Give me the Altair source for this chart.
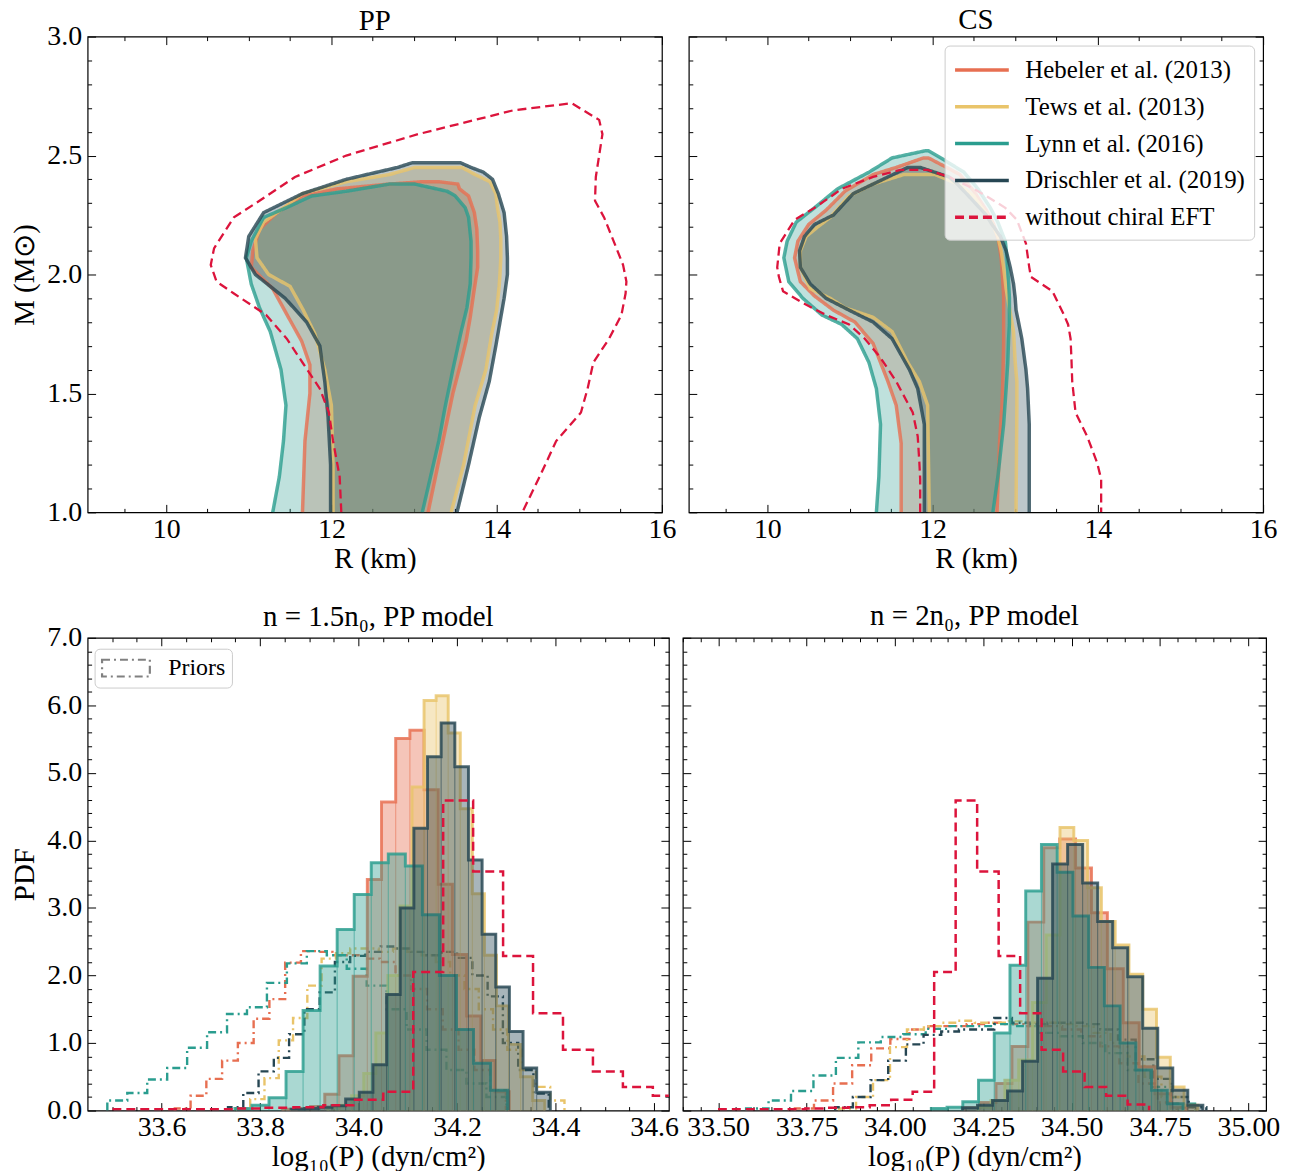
import altair as alt
import pandas as pd

FONT = "Liberation Serif"
MODELS = ["Hebeler et al. (2013)", "Tews et al. (2013)", "Lynn et al. (2016)", "Drischler et al. (2019)"]
NO_EFT = "without chiral EFT"
MODEL_COLORS = ["#e76f51", "#e9c46a", "#2a9d8f", "#264653"]
RED = "#dc143c"
PRIOR_LABEL = "Priors"

# ---------------- M-R 90% regions: mass rows, left radius, right radius ----------------
PP_HEB_M = [1.00, 1.30, 1.50, 1.62, 1.72, 1.82, 1.94, 2.03, 2.10, 2.19, 2.26, 2.33, 2.36, 2.38, 2.39]
PP_HEB_L = [11.65, 11.68, 11.74, 11.74, 11.64, 11.48, 11.29, 11.03, 11.05, 11.13, 11.34, 11.65, 12.07, 12.70, 13.10]
PP_HEB_R = [13.17, 13.35, 13.47, 13.56, 13.63, 13.68, 13.73, 13.77, 13.77, 13.76, 13.73, 13.66, 13.55, 13.53, 13.30]

PP_TEWS_M = [1.00, 1.20, 1.45, 1.60, 1.75, 1.85, 1.95, 2.00, 2.07, 2.15, 2.22, 2.28, 2.34, 2.39, 2.42, 2.45]
PP_TEWS_L = [12.02, 12.02, 12.00, 11.92, 11.80, 11.66, 11.50, 11.24, 11.10, 11.08, 11.18, 11.42, 11.65, 12.18, 12.70, 13.01]
PP_TEWS_R = [13.45, 13.60, 13.74, 13.87, 13.94, 14.00, 14.03, 14.04, 14.05, 14.05, 14.04, 14.01, 13.99, 13.92, 13.74, 13.58]

PP_LYNN_M = [1.00, 1.15, 1.30, 1.45, 1.60, 1.76, 1.86, 1.96, 2.07, 2.14, 2.24, 2.28, 2.33, 2.35, 2.38]
PP_LYNN_L = [11.29, 11.37, 11.42, 11.45, 11.39, 11.26, 11.13, 11.03, 10.97, 11.03, 11.18, 11.45, 11.76, 12.18, 12.70]
PP_LYNN_R = [13.10, 13.20, 13.30, 13.38, 13.47, 13.57, 13.64, 13.68, 13.69, 13.69, 13.66, 13.62, 13.50, 13.40, 13.01]

PP_DRI_M = [1.00, 1.20, 1.40, 1.55, 1.70, 1.80, 1.90, 2.00, 2.07, 2.16, 2.26, 2.34, 2.40, 2.43, 2.45, 2.47]
PP_DRI_L = [11.99, 11.99, 11.96, 11.92, 11.86, 11.70, 11.44, 11.08, 10.96, 11.00, 11.18, 11.65, 12.18, 12.55, 12.80, 12.98]
PP_DRI_R = [13.52, 13.66, 13.79, 13.91, 13.99, 14.04, 14.09, 14.13, 14.13, 14.12, 14.09, 14.02, 13.95, 13.84, 13.69, 13.56]

PP_RED_M = [1.00, 1.15, 1.30, 1.42, 1.52, 1.63, 1.73, 1.83, 1.92, 1.97, 2.04, 2.11, 2.24, 2.31, 2.41, 2.50, 2.59, 2.65, 2.69, 2.72]
PP_RED_L = [12.12, 12.10, 12.02, 11.97, 11.86, 11.65, 11.46, 11.21, 10.82, 10.61, 10.54, 10.58, 10.82, 11.13, 11.56, 12.18, 13.05, 13.74, 14.20, 14.91]
PP_RED_R = [14.31, 14.52, 14.72, 15.02, 15.10, 15.17, 15.36, 15.51, 15.56, 15.57, 15.53, 15.45, 15.30, 15.19, 15.20, 15.24, 15.28, 15.24, 15.05, 14.91]

CS_HEB_M = [1.00, 1.29, 1.45, 1.55, 1.71, 1.80, 1.85, 1.91, 1.97, 2.07, 2.14, 2.21, 2.27, 2.35, 2.42, 2.45, 2.49]
CS_HEB_L = [11.62, 11.62, 11.56, 11.46, 11.28, 11.06, 10.80, 10.57, 10.40, 10.33, 10.37, 10.50, 10.71, 10.94, 11.28, 11.56, 11.89]
CS_HEB_R = [12.78, 12.81, 12.84, 12.85, 12.86, 12.86, 12.86, 12.86, 12.85, 12.83, 12.80, 12.74, 12.65, 12.50, 12.33, 12.17, 11.95]

CS_TEWS_M = [1.00, 1.45, 1.55, 1.63, 1.76, 1.82, 1.86, 1.90, 1.94, 2.03, 2.10, 2.16, 2.20, 2.24, 2.33, 2.38, 2.42]
CS_TEWS_L = [11.96, 11.94, 11.84, 11.70, 11.51, 11.28, 10.94, 10.76, 10.52, 10.40, 10.40, 10.47, 10.61, 10.76, 10.99, 11.28, 11.65]
CS_TEWS_R = [13.01, 13.02, 13.02, 13.00, 12.98, 12.95, 12.93, 12.91, 12.89, 12.86, 12.83, 12.79, 12.74, 12.68, 12.50, 12.31, 12.03]

CS_LYNN_M = [1.00, 1.15, 1.37, 1.52, 1.63, 1.73, 1.79, 1.83, 1.90, 1.97, 2.07, 2.14, 2.22, 2.28, 2.36, 2.43, 2.49, 2.52]
CS_LYNN_L = [11.32, 11.35, 11.37, 11.32, 11.23, 11.09, 10.90, 10.66, 10.43, 10.26, 10.20, 10.24, 10.35, 10.57, 10.85, 11.23, 11.51, 11.91]
CS_LYNN_R = [12.73, 12.79, 12.86, 12.89, 12.91, 12.92, 12.93, 12.93, 12.93, 12.92, 12.90, 12.88, 12.79, 12.70, 12.55, 12.38, 12.10, 11.95]

CS_DRI_M = [1.00, 1.37, 1.52, 1.60, 1.73, 1.80, 1.85, 1.90, 1.96, 2.03, 2.10, 2.16, 2.21, 2.25, 2.34, 2.38, 2.41, 2.45]
CS_DRI_L = [11.90, 11.90, 11.82, 11.72, 11.51, 11.28, 10.99, 10.71, 10.52, 10.40, 10.39, 10.45, 10.57, 10.80, 11.04, 11.28, 11.46, 11.70]
CS_DRI_R = [13.17, 13.17, 13.15, 13.13, 13.08, 13.04, 13.01, 13.00, 12.98, 12.94, 12.89, 12.82, 12.72, 12.65, 12.41, 12.30, 12.20, 11.85]

CS_RED_M = [1.00, 1.14, 1.21, 1.32, 1.42, 1.55, 1.65, 1.73, 1.79, 1.83, 1.88, 1.93, 1.99, 2.03, 2.13, 2.23, 2.28, 2.33, 2.36, 2.41, 2.44]
CS_RED_L = [11.85, 11.85, 11.84, 11.82, 11.76, 11.56, 11.37, 11.18, 10.99, 10.71, 10.43, 10.19, 10.14, 10.12, 10.15, 10.33, 10.57, 10.78, 10.90, 11.28, 11.61]
CS_RED_R = [14.04, 14.04, 13.99, 13.87, 13.73, 13.69, 13.68, 13.67, 13.64, 13.59, 13.52, 13.45, 13.19, 13.17, 13.13, 13.02, 12.88, 12.65, 12.50, 12.20, 11.94]

# ---------------- histograms: (first bin edge, bin width, PDF heights) ----------------
P15_HEB = (33.845, 0.0288, [0.02, 0.03, 0.06, 0.24, 0.81, 1.99, 3.42, 4.57, 5.51, 5.63, 4.75, 3.35, 2.31, 1.40, 0.74, 0.28])
P15_TEWS = (33.937, 0.0245, [0.04, 0.08, 0.22, 0.55, 1.15, 2.0, 3.03, 4.79, 6.07, 6.14, 5.59, 4.47, 3.21, 2.30, 1.55, 0.98, 0.5, 0.15])
P15_LYNN = (33.749, 0.0346, [0.03, 0.08, 0.19, 0.58, 1.48, 2.14, 2.68, 3.20, 3.67, 3.80, 3.62, 2.9, 2.0, 1.2, 0.7, 0.3])
P15_DRI = (33.863, 0.0277, [0.02, 0.03, 0.05, 0.07, 0.17, 0.27, 0.68, 1.72, 3.0, 4.18, 5.24, 5.74, 5.09, 3.71, 2.61, 1.83, 1.17, 0.63, 0.27])
R15_HEB = (33.627, 0.032, [0.03, 0.22, 0.47, 0.74, 1.0, 1.36, 1.65, 2.19, 2.36, 2.35, 2.3, 2.3, 2.25, 2.2, 2.0, 1.8, 1.5, 1.2, 0.9, 0.6, 0.3])
R15_TEWS = (33.751, 0.029, [0.03, 0.17, 0.48, 1.04, 1.37, 1.85, 2.25, 2.33, 2.4, 2.4, 2.35, 2.4, 2.35, 2.3, 2.2, 2.0, 1.8, 1.5, 1.2, 0.9, 0.6, 0.35, 0.15])
R15_LYNN = (33.49, 0.0405, [0.15, 0.26, 0.46, 0.63, 0.93, 1.16, 1.43, 1.53, 1.89, 2.18, 2.36, 2.30, 2.10, 1.85, 1.5, 1.2, 0.9, 0.6, 0.4, 0.2])
R15_DRI = (33.735, 0.031, [0.05, 0.26, 0.58, 0.78, 1.13, 1.5, 1.75, 2.2, 2.29, 2.35, 2.43, 2.4, 2.35, 2.3, 2.35, 2.26, 2.0, 1.69, 1.0, 0.6, 0.25])
P20_HEB = (34.196, 0.045, [0.04, 0.12, 0.40, 0.95, 2.79, 3.89, 4.02, 3.59, 2.93, 2.1, 1.3, 0.65, 0.25, 0.05])
P20_TEWS = (34.233, 0.039, [0.05, 0.15, 0.45, 0.75, 1.6, 2.6, 4.19, 4.0, 3.3, 2.8, 2.45, 2.02, 1.5, 0.79, 0.35, 0.08])
P20_LYNN = (34.103, 0.0445, [0.03, 0.05, 0.13, 0.45, 1.15, 2.15, 3.25, 3.94, 3.53, 2.88, 2.12, 1.55, 1.0, 0.6, 0.3, 0.1])
P20_DRI = (34.191, 0.0425, [0.04, 0.08, 0.15, 0.29, 0.73, 1.96, 3.65, 3.94, 3.37, 2.80, 2.41, 1.98, 1.22, 0.63, 0.30, 0.08])
R20_HEB = (33.717, 0.054, [0.03, 0.15, 0.40, 0.67, 0.92, 1.06, 1.2, 1.25, 1.25, 1.28, 1.3, 1.28, 1.25, 1.25, 1.2, 1.1, 0.95, 0.7, 0.4, 0.12])
R20_TEWS = (33.842, 0.048, [0.03, 0.2, 0.45, 0.94, 1.2, 1.25, 1.3, 1.33, 1.3, 1.3, 1.32, 1.3, 1.3, 1.28, 1.25, 1.15, 1.0, 0.8, 0.5, 0.2, 0.05])
R20_LYNN = (33.579, 0.0635, [0.03, 0.15, 0.29, 0.52, 0.78, 1.01, 1.09, 1.13, 1.21, 1.25, 1.25, 1.28, 1.25, 1.15, 1.1, 1.0, 0.85, 0.6, 0.35, 0.1])
R20_DRI = (33.831, 0.05, [0.05, 0.2, 0.45, 0.74, 0.98, 1.12, 1.17, 1.2, 1.2, 1.37, 1.3, 1.28, 1.3, 1.3, 1.28, 1.2, 1.05, 0.76, 0.47, 0.2, 0.05])
NOEFT_HIST = (33.503, 0.0608, [0.02, 0.02, 0.02, 0.02, 0.03, 0.04, 0.05, 0.08, 0.16, 0.28, 2.05, 4.59, 3.54, 2.29, 1.44, 0.90, 0.58, 0.35, 0.22, 0.09])

# ---------------- axes ----------------
R_DOMAIN = [9.05, 16.0]
M_DOMAIN = [1.0, 3.0]
P15_DOMAIN = [33.45, 34.63]
P20_DOMAIN = [33.40, 35.05]
PDF_DOMAIN = [0.0, 7.0]
R_TICKS = [round(9.5 + 0.5 * i, 2) for i in range(14)]
M_TICKS = [round(1.0 + 0.1 * i, 2) for i in range(21)]
P15_TICKS = [round(33.5 + 0.05 * i, 2) for i in range(23)]
P20_TICKS = [round(33.40 + 0.05 * i, 2) for i in range(33)]
PDF_TICKS = [round(0.2 * i, 1) for i in range(36)]

TOP_W, TOP_H = 577, 478
BL_W, BR_W, BOT_H = 584, 586, 475
LABEL_SIZE, TITLE_SIZE, LEGEND_SIZE = 28, 29, 25


def major_test(step):
    return f"abs(datum.value / {step} - round(datum.value / {step})) < 0.001"


def make_axis(orient, values, step, fmt=None, labels=True, title=None, pad=11, tpad=-3):
    t = major_test(step)
    kw = dict(orient=orient, values=values, domain=False, grid=False,
              tickColor="black", tickWidth=1,
              tickSize=alt.ExprRef(expr=f"({t}) ? -8 : -4"),
              labelFont=FONT, labelFontSize=LABEL_SIZE, labelColor="black",
              labelPadding=pad, labelFlush=False, labelOverlap=False,
              titleFont=FONT, titleFontSize=TITLE_SIZE, titleColor="black",
              titleFontWeight="normal", titlePadding=tpad, title=title)
    if fmt:
        kw["format"] = fmt
    if labels:
        kw["labelExpr"] = f"({t}) ? datum.label : ''"
    else:
        kw["labels"] = False
    return alt.Axis(**kw)


def frame_layers(xdom, ydom, xticks, xstep, xfmt, yticks, ystep, yfmt, xtitle, ytitle, ylabels):
    df = pd.DataFrame({"fx": [xdom[0]], "fy": [ydom[0]]})
    xs = alt.Scale(domain=xdom, nice=False, zero=False)
    ys = alt.Scale(domain=ydom, nice=False, zero=False)
    base = alt.Chart(df).mark_point(opacity=0)
    bl = base.encode(
        x=alt.X("fx:Q", scale=xs, axis=make_axis("bottom", xticks, xstep, xfmt, True, xtitle, 11, -3)),
        y=alt.Y("fy:Q", scale=ys, axis=make_axis("left", yticks, ystep, yfmt, ylabels, ytitle, 14, 7)))
    tr = base.encode(
        x=alt.X("fx:Q", scale=xs, axis=make_axis("top", xticks, xstep, labels=False)),
        y=alt.Y("fy:Q", scale=ys, axis=make_axis("right", yticks, ystep, labels=False)))
    return bl, tr, xs, ys


def region_df(M, L, R):
    return pd.DataFrame({"M": M, "RL": L, "RR": R})


def outline_df(M, L, R, label):
    pts = list(zip(L, M)) + list(zip(R, M))[::-1]
    return pd.DataFrame([{"label": label, "R": r, "M": m, "o": i} for i, (r, m) in enumerate(pts)])


def panel_title(text, offset):
    return alt.TitleParams(text, font=FONT, fontSize=TITLE_SIZE, fontWeight="normal",
                           color="black", offset=offset)


def mr_panel(title, regions, red, show_y, legend):
    bl, tr, xs, ys = frame_layers(R_DOMAIN, M_DOMAIN, R_TICKS, 2, ".0f", M_TICKS, 0.5, ".1f",
                                  "R (km)", "M (M⊙)" if show_y else None, show_y)
    layers = [bl]
    for (M, L, R), col in zip(regions, MODEL_COLORS):
        layers.append(alt.Chart(region_df(M, L, R)).mark_area(
            orient="horizontal", color=col, opacity=0.3).encode(
            y=alt.Y("M:Q", scale=ys, axis=None),
            x=alt.X("RL:Q", scale=xs, axis=None),
            x2="RR:Q"))
    lines = pd.concat([outline_df(M, L, R, lab) for (M, L, R), lab in zip(regions, MODELS)])
    dom = MODELS + [NO_EFT]
    if legend:
        leg = alt.Legend(title=None, orient="none", legendX=257, legendY=9,
                         fillColor="rgba(255,255,255,0.8)", strokeColor="#cccccc",
                         cornerRadius=5, padding=9, labelFont=FONT, labelFontSize=LEGEND_SIZE,
                         labelColor="black", labelLimit=500, symbolType="M-2,0L2,0", symbolSize=729,
                         symbolOffset=13, symbolStrokeWidth=3.5, labelOffset=28, rowPadding=8)
    else:
        leg = None
    layers.append(alt.Chart(lines).mark_line(strokeWidth=3.5, strokeOpacity=0.8, clip=True).encode(
        x=alt.X("R:Q", scale=xs, axis=None),
        y=alt.Y("M:Q", scale=ys, axis=None),
        color=alt.Color("label:N", scale=alt.Scale(domain=dom, range=MODEL_COLORS + [RED]), legend=leg),
        strokeDash=alt.StrokeDash("label:N", scale=alt.Scale(domain=dom, range=[[1, 0]] * 4 + [[9, 5]]), legend=leg),
        order="o:Q"))
    M, L, R = red
    layers.append(alt.Chart(outline_df(M, L, R, NO_EFT)).mark_line(
        color=RED, strokeWidth=2.3, strokeDash=[9, 5], clip=True).encode(
        x=alt.X("R:Q", scale=xs, axis=None),
        y=alt.Y("M:Q", scale=ys, axis=None),
        order="o:Q"))
    layers.append(tr)
    return alt.layer(*layers).resolve_axis(x="independent", y="independent").properties(
        width=TOP_W, height=TOP_H, title=panel_title(title, -13 if show_y else 1))


def hist_tables(series, name):
    start, width, heights = series
    bars = [{"model": name, "x0": start + i * width, "x1": start + (i + 1) * width, "h": h, "b": 0.0}
            for i, h in enumerate(heights)]
    pts = [(start, 0.0)] + [(start + i * width, h) for i, h in enumerate(heights)] + \
          [(start + len(heights) * width, 0.0)]
    steps = [{"model": name, "kind": PRIOR_LABEL, "x": x, "y": y, "o": k} for k, (x, y) in enumerate(pts)]
    return pd.DataFrame(bars), pd.DataFrame(steps)


def hist_panel(title, posts, priors, xdom, xticks, xstep, xfmt, width, show_y, legend):
    bl, tr, xs, ys = frame_layers(xdom, PDF_DOMAIN, xticks, xstep, xfmt, PDF_TICKS, 1.0, ".1f",
                                  "log₁₀(P) (dyn/cm²)", "PDF" if show_y else None, show_y)
    layers = [bl]
    prior_steps = pd.concat([hist_tables(s, m)[1] for s, m in zip(priors, MODELS)])
    if legend:
        leg = alt.Legend(title=None, orient="none", legendX=7, legendY=11, fillColor="white",
                         strokeColor="#cccccc", cornerRadius=5, padding=6,
                         labelFont=FONT, labelFontSize=LEGEND_SIZE - 1, labelColor="black", labelLimit=500,
                         symbolType="M-2,-0.7L2,-0.7L2,0.7L-2,0.7Z", symbolSize=576, symbolOffset=12,
                         symbolStrokeColor="gray", symbolFillColor="transparent",
                         symbolStrokeWidth=2.2, labelOffset=29)
    else:
        leg = None
    layers.append(alt.Chart(prior_steps).mark_line(interpolate="step-after", strokeWidth=2.4, clip=True).encode(
        x=alt.X("x:Q", scale=xs, axis=None),
        y=alt.Y("y:Q", scale=ys, axis=None),
        color=alt.Color("model:N", scale=alt.Scale(domain=MODELS, range=MODEL_COLORS), legend=None),
        strokeDash=alt.StrokeDash("kind:N", scale=alt.Scale(domain=[PRIOR_LABEL], range=[[8, 4, 2, 4]]), legend=leg),
        order="o:Q"))
    for s, m, col in zip(posts, MODELS, MODEL_COLORS):
        bars, steps = hist_tables(s, m)
        layers.append(alt.Chart(bars).mark_rect(
            fill=col, fillOpacity=0.4, stroke=col, strokeWidth=0.7, strokeOpacity=0.5, clip=True).encode(
            x=alt.X("x0:Q", scale=xs, axis=None), x2="x1:Q",
            y=alt.Y("h:Q", scale=ys, axis=None), y2="b:Q"))
        layers.append(alt.Chart(steps).mark_line(
            interpolate="step-after", color=col, strokeWidth=3, strokeOpacity=0.8, clip=True).encode(
            x=alt.X("x:Q", scale=xs, axis=None),
            y=alt.Y("y:Q", scale=ys, axis=None),
            order="o:Q"))
    red_steps = hist_tables(NOEFT_HIST, NO_EFT)[1]
    layers.append(alt.Chart(red_steps).mark_line(
        interpolate="step-after", color=RED, strokeWidth=2.5, strokeDash=[9, 5], clip=True).encode(
        x=alt.X("x:Q", scale=xs, axis=None),
        y=alt.Y("y:Q", scale=ys, axis=None),
        order="o:Q"))
    layers.append(tr)
    return alt.layer(*layers).resolve_axis(x="independent", y="independent").properties(
        width=width, height=BOT_H, title=panel_title(title, -8 if show_y else 6))


pp = mr_panel("PP",
              [(PP_HEB_M, PP_HEB_L, PP_HEB_R), (PP_TEWS_M, PP_TEWS_L, PP_TEWS_R),
               (PP_LYNN_M, PP_LYNN_L, PP_LYNN_R), (PP_DRI_M, PP_DRI_L, PP_DRI_R)],
              (PP_RED_M, PP_RED_L, PP_RED_R), True, False)
cs = mr_panel("CS",
              [(CS_HEB_M, CS_HEB_L, CS_HEB_R), (CS_TEWS_M, CS_TEWS_L, CS_TEWS_R),
               (CS_LYNN_M, CS_LYNN_L, CS_LYNN_R), (CS_DRI_M, CS_DRI_L, CS_DRI_R)],
              (CS_RED_M, CS_RED_L, CS_RED_R), False, True)
h15 = hist_panel("n = 1.5n₀, PP model", [P15_HEB, P15_TEWS, P15_LYNN, P15_DRI],
                 [R15_HEB, R15_TEWS, R15_LYNN, R15_DRI], P15_DOMAIN, P15_TICKS, 0.2, ".1f",
                 BL_W, True, True)
h20 = hist_panel("n = 2n₀, PP model", [P20_HEB, P20_TEWS, P20_LYNN, P20_DRI],
                 [R20_HEB, R20_TEWS, R20_LYNN, R20_DRI], P20_DOMAIN, P20_TICKS, 0.25, ".2f",
                 BR_W, False, False)

top = alt.hconcat(pp, cs, spacing=27, bounds="flush").resolve_scale(color="independent", strokeDash="independent")
bottom = alt.hconcat(h15, h20, spacing=14, bounds="flush").resolve_scale(color="independent", strokeDash="independent")
chart = alt.vconcat(top, bottom, spacing=27).resolve_scale(
    color="independent", strokeDash="independent").properties(
    padding={"left": 2, "top": -6, "right": 6, "bottom": 0}).configure_view(
    stroke="black", strokeWidth=1.2)

chart.save("out.html", embed_options={"renderer": "svg", "actions": False})
